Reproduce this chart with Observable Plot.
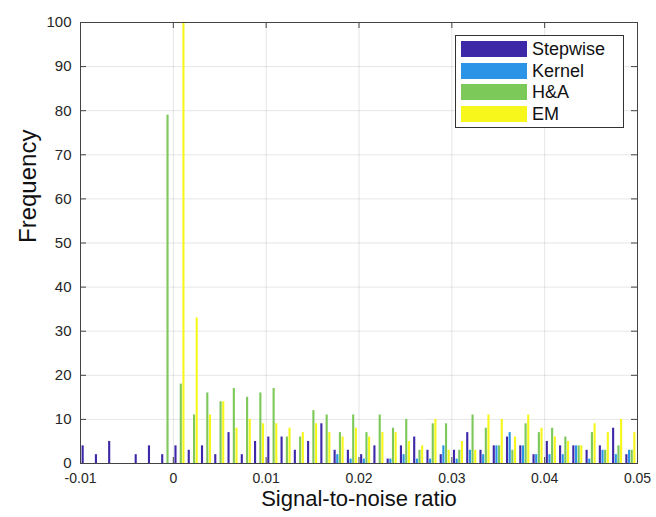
<!DOCTYPE html>
<html>
<head>
<meta charset="utf-8">
<script src="https://cdn.jsdelivr.net/npm/d3@7"></script>
<script src="https://cdn.jsdelivr.net/npm/@observablehq/plot@0.6"></script>
<style>
  html, body { margin: 0; padding: 0; background: #fff; }
  #wrap { position: relative; width: 656px; height: 517px; font-family: "Liberation Sans", Arial, sans-serif; }
  #legend { position: absolute; left: 455px; top: 35px; width: 169px; height: 93px; box-sizing: border-box;
            border: 1px solid #333; background: #fff; }
  .sw { position: absolute; left: 5px; width: 66px; height: 16px; }
  .lt { position: absolute; left: 76px; font-size: 18px; line-height: 18px; color: #111; white-space: nowrap; }
</style>
</head>
<body>
<div id="wrap"></div>
<script>
// ---- data ----
const seriesNames = ["Stepwise", "Kernel", "H&A", "EM"];
const seriesColors = ["#3d28a8", "#2b94e6", "#7cc95a", "#f7f71c"];
const binStart = -0.01;
const binEnd = 0.05;
const binCount = 42;
const stepwise = [4,2,5,0,2,4,2,4,3,4,2,7,2,5,6,6,3,5,9,3,3,2,4,1,4,6,3,2,3,7,3,4,6,4,2,5,4,4,3,4,8,2];
const kernel   = [0,0,0,0,0,0,0,0,0,0,0,0,0,0,0,0,0,0,0,2,1,1,0,1,2,1,1,4,1,3,2,4,7,4,2,2,2,4,1,3,2,3];
const ha       = [0,0,0,0,0,0,79,18,11,16,14,17,15,16,17,6,6,12,11,7,11,7,11,8,10,3,9,9,3,11,8,4,3,9,7,8,6,4,7,3,4,3];
const em       = [0,0,0,0,0,0,0,100,33,11,14,8,10,9,9,8,7,9,7,6,8,6,7,7,5,4,10,3,5,3,11,10,6,11,8,6,5,4,9,7,10,7];
const xTicks = [-0.01, 0, 0.01, 0.02, 0.03, 0.04, 0.05];
const xTickLabels = ["-0.01", "0", "0.01", "0.02", "0.03", "0.04", "0.05"];
const yTicks = [0, 10, 20, 30, 40, 50, 60, 70, 80, 90, 100];
const yTickLabels = ["0", "10", "20", "30", "40", "50", "60", "70", "80", "90", "100"];
const xLabel = "Signal-to-noise ratio";
const yLabel = "Frequency";

// ---- build table ----
const allValues = [stepwise, kernel, ha, em];
const bw = (binEnd - binStart) / binCount;
const rows = [];
allValues.forEach((vals, j) => {
  vals.forEach((v, i) => {
    const c = binStart + (i + 0.5) * bw + (j - 1.5) * 0.2 * bw;
    rows.push({series: seriesNames[j], bin: i, value: v, x1: c - 0.08 * bw, x2: c + 0.08 * bw});
  });
});

const W = 656, H = 517;
const mL = 80, mR = 19, mT = 22, mB = 54;
const fw = W - mL - mR, fh = H - mT - mB;
const tl = 6;
const axisColor = "#444";

const chart = Plot.plot({
  width: W, height: H,
  marginLeft: mL, marginRight: mR, marginTop: mT, marginBottom: mB,
  style: {fontFamily: "'Liberation Sans', Arial, sans-serif", fontSize: "15px", color: "#262626", background: "#fff"},
  x: {domain: [binStart, binEnd], axis: null},
  y: {domain: [0, 100], axis: null},
  color: {domain: seriesNames, range: seriesColors},
  marks: [
    Plot.gridX(xTicks, {stroke: "#000", strokeOpacity: 0.1}),
    Plot.gridY(yTicks, {stroke: "#000", strokeOpacity: 0.1}),
    Plot.rectY(rows, {x1: "x1", x2: "x2", y: "value", fill: "series"}),
    Plot.tickX(xTicks, {x: d => d, insetTop: fh - tl, stroke: axisColor}),
    Plot.tickX(xTicks, {x: d => d, insetBottom: fh - tl, stroke: axisColor}),
    Plot.tickY(yTicks, {y: d => d, insetRight: fw - tl, stroke: axisColor}),
    Plot.tickY(yTicks, {y: d => d, insetLeft: fw - tl, stroke: axisColor}),
    Plot.frame({stroke: axisColor}),
    Plot.axisX(xTicks, {tickSize: 0, tickPadding: 10, fontSize: 14, label: null,
      tickFormat: d => xTickLabels[xTicks.indexOf(d)]}),
    Plot.axisY(yTicks, {tickSize: 0, tickPadding: 9, fontSize: 15, label: null,
      tickFormat: d => yTickLabels[yTicks.indexOf(d)]}),
    Plot.text([xLabel], {text: d => d, frameAnchor: "bottom", dy: 42, fontSize: 22, fill: "#111"}),
    Plot.text([yLabel], {text: d => d, frameAnchor: "left", dx: -52, rotate: -90, fontSize: 24, fill: "#111"})
  ]
});

const wrap = document.getElementById("wrap");
wrap.appendChild(chart);

// ---- legend ----
const legend = document.createElement("div");
legend.id = "legend";
seriesNames.forEach((name, j) => {
  const sw = document.createElement("div");
  sw.className = "sw";
  sw.style.top = (5 + j * 21.7) + "px";
  sw.style.background = seriesColors[j];
  legend.appendChild(sw);
  const t = document.createElement("div");
  t.className = "lt";
  t.style.top = (4 + j * 21.7) + "px";
  t.textContent = name;
  legend.appendChild(t);
});
wrap.appendChild(legend);
</script>
</body>
</html>
